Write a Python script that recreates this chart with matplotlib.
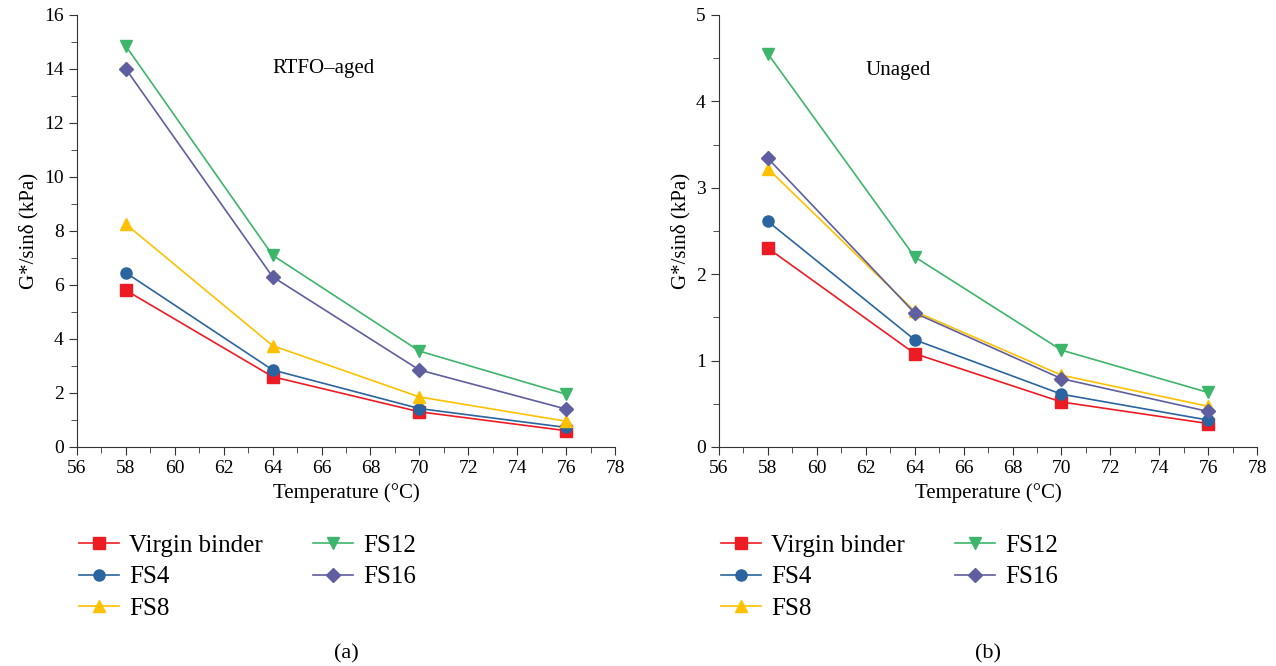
import matplotlib
matplotlib.use("Agg")
import matplotlib.pyplot as plt
from matplotlib.ticker import MultipleLocator

plt.rcParams["font.family"] = ["Liberation Serif", "DejaVu Serif"]

temps = [58, 64, 70, 76]
series_names = ["Virgin binder", "FS4", "FS8", "FS12", "FS16"]

# RTFO-aged G*/sin(delta), kPa
rtfo_virgin = [5.8, 2.6, 1.3, 0.6]
rtfo_fs4 = [6.45, 2.85, 1.42, 0.72]
rtfo_fs8 = [8.25, 3.75, 1.85, 0.95]
rtfo_fs12 = [14.85, 7.1, 3.55, 1.95]
rtfo_fs16 = [14.0, 6.3, 2.85, 1.4]

# Unaged G*/sin(delta), kPa
unaged_virgin = [2.3, 1.08, 0.52, 0.27]
unaged_fs4 = [2.61, 1.24, 0.61, 0.31]
unaged_fs8 = [3.22, 1.57, 0.83, 0.47]
unaged_fs12 = [4.55, 2.2, 1.12, 0.63]
unaged_fs16 = [3.34, 1.55, 0.79, 0.41]

colors = ["#ED1C24", "#2A65A0", "#FFC000", "#3DB56A", "#5E5EA0"]
markers = ["s", "o", "^", "v", "D"]
msizes = [8, 8, 9, 9, 7]


def draw_panel(ax, data, ymax, ystep, label, text, text_xy, tag):
    for vals, name, c, m, ms in zip(data, series_names, colors, markers, msizes):
        ax.plot(temps, vals, color=c, marker=m, markersize=ms, lw=1.2, label=name)
    ax.set_xlim(56, 78)
    ax.set_ylim(0, ymax)
    ax.xaxis.set_major_locator(MultipleLocator(2))
    ax.xaxis.set_minor_locator(MultipleLocator(1))
    ax.yaxis.set_major_locator(MultipleLocator(ystep))
    ax.yaxis.set_minor_locator(MultipleLocator(ystep / 2))
    ax.tick_params(which="both", direction="out", labelsize=14, color="#333333")
    ax.tick_params(which="major", length=6)
    ax.tick_params(which="minor", length=4)
    for s in ["top", "right"]:
        ax.spines[s].set_visible(False)
    for s in ["left", "bottom"]:
        ax.spines[s].set_color("#333333")
    ax.set_xlabel("Temperature (°C)", fontsize=15)
    ax.set_ylabel(label, fontsize=15)
    ax.text(text_xy[0], text_xy[1], text, fontsize=15, va="center", ha="left")
    ax.legend(loc="upper left", bbox_to_anchor=(-0.01, -0.185), ncol=2, frameon=False,
              fontsize=18, handlelength=1.6, columnspacing=2.0, labelspacing=0.36,
              handletextpad=0.4, borderaxespad=0.0, borderpad=0.3)
    ax.text(0.5, -0.48, tag, transform=ax.transAxes, fontsize=16, ha="center", va="center")


fig = plt.figure(figsize=(12.76, 6.66), dpi=100)
ax1 = fig.add_axes([0.0603, 0.329, 0.4217, 0.6485])
ax2 = fig.add_axes([0.5635, 0.329, 0.4217, 0.6485])

draw_panel(ax1, [rtfo_virgin, rtfo_fs4, rtfo_fs8, rtfo_fs12, rtfo_fs16],
           16, 2, "G*/sinδ (kPa)", "RTFO–aged", (64, 14), "(a)")
draw_panel(ax2, [unaged_virgin, unaged_fs4, unaged_fs8, unaged_fs12, unaged_fs16],
           5, 1, "G*/sinδ (kPa)", "Unaged", (62, 4.36), "(b)")

fig.savefig("out.png", dpi=100)
